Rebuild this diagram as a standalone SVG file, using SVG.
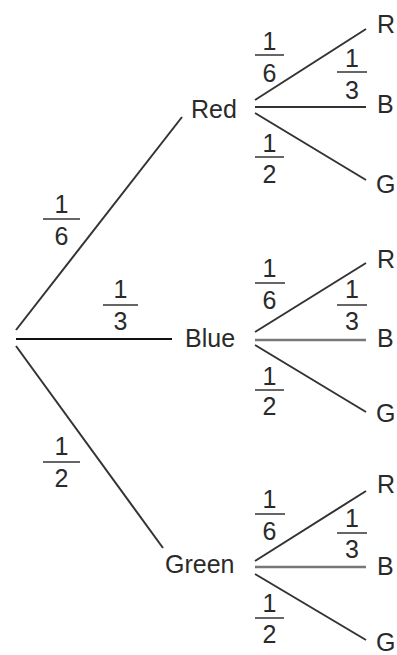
<svg xmlns="http://www.w3.org/2000/svg" width="397" height="655" viewBox="0 0 397 655">
<style>
text{font-family:"Liberation Sans",Arial,sans-serif;font-size:25px;fill:#2a2a2a}
.d{text-anchor:middle}
.e{stroke:#333;stroke-width:2;fill:none;stroke-linecap:butt}
.g{stroke:#777;stroke-width:2.5}
.k{stroke:#111;stroke-width:1.8}
.bar{stroke:#666;stroke-width:2}
</style>
<rect width="397" height="655" fill="#fff"/>
<g id="connectors">
<line class="e" x1="16" y1="330" x2="182" y2="117"/>
<line class="e k" x1="16" y1="339" x2="172" y2="339"/>
<line class="e" x1="16" y1="346" x2="163" y2="548"/>
<line class="e" x1="255" y1="100" x2="366" y2="29"/>
<line class="e" x1="255" y1="107" x2="366" y2="107"/>
<line class="e" x1="255" y1="113" x2="366" y2="180"/>
<line class="e" x1="255" y1="332" x2="366" y2="263"/>
<line class="e g" x1="255" y1="340" x2="366" y2="340"/>
<line class="e" x1="255" y1="345" x2="366" y2="412"/>
<line class="e" x1="255" y1="561" x2="366" y2="491"/>
<line class="e g" x1="255" y1="567" x2="366" y2="567"/>
<line class="e" x1="255" y1="574" x2="366" y2="640"/>
</g>
<g id="labels">
<g id="p-root-red"><text class="d" x="61.5" y="213">1</text><line class="bar" x1="43" y1="219" x2="80" y2="219"/><text class="d" x="61.5" y="245">6</text></g>
<g id="p-root-blue"><text class="d" x="120.5" y="298">1</text><line class="bar" x1="103" y1="305" x2="138" y2="305"/><text class="d" x="120.5" y="330">3</text></g>
<g id="p-root-green"><text class="d" x="61.5" y="455">1</text><line class="bar" x1="43" y1="462" x2="80" y2="462"/><text class="d" x="61.5" y="487">2</text></g>

<g id="p-red-r"><text class="d" x="269.5" y="50">1</text><line class="bar" x1="255" y1="55" x2="284" y2="55"/><text class="d" x="269.5" y="82">6</text></g>
<g id="p-red-b"><text class="d" x="352" y="67">1</text><line class="bar" x1="337" y1="72" x2="367" y2="72"/><text class="d" x="352" y="99">3</text></g>
<g id="p-red-g"><text class="d" x="269.5" y="152">1</text><line class="bar" x1="255" y1="157" x2="284" y2="157"/><text class="d" x="269.5" y="183">2</text></g>

<g id="p-blue-r"><text class="d" x="269.5" y="277">1</text><line class="bar" x1="255" y1="283" x2="285" y2="283"/><text class="d" x="269.5" y="309">6</text></g>
<g id="p-blue-b"><text class="d" x="352" y="298">1</text><line class="bar" x1="337" y1="305" x2="367" y2="305"/><text class="d" x="352" y="330">3</text></g>
<g id="p-blue-g"><text class="d" x="269.5" y="385">1</text><line class="bar" x1="255" y1="390" x2="284" y2="390"/><text class="d" x="269.5" y="415">2</text></g>

<g id="p-green-r"><text class="d" x="269.5" y="508">1</text><line class="bar" x1="255" y1="514" x2="285" y2="514"/><text class="d" x="269.5" y="540">6</text></g>
<g id="p-green-b"><text class="d" x="352" y="527">1</text><line class="bar" x1="337" y1="533" x2="367" y2="533"/><text class="d" x="352" y="558">3</text></g>
<g id="p-green-g"><text class="d" x="269.5" y="612">1</text><line class="bar" x1="255" y1="618" x2="284" y2="618"/><text class="d" x="269.5" y="643">2</text></g>
</g>
<g id="node-red"><text x="191" y="118">Red</text></g>
<g id="node-blue"><text x="185" y="347">Blue</text></g>
<g id="node-green"><text x="165" y="573">Green</text></g>
<g id="node-red-r"><text x="377" y="33">R</text></g>
<g id="node-red-b"><text x="377" y="113">B</text></g>
<g id="node-red-g"><text x="376" y="193">G</text></g>
<g id="node-blue-r"><text x="377" y="268">R</text></g>
<g id="node-blue-b"><text x="377" y="347">B</text></g>
<g id="node-blue-g"><text x="376" y="422">G</text></g>
<g id="node-green-r"><text x="377" y="493">R</text></g>
<g id="node-green-b"><text x="377" y="575">B</text></g>
<g id="node-green-g"><text x="376" y="651">G</text></g>
</svg>
